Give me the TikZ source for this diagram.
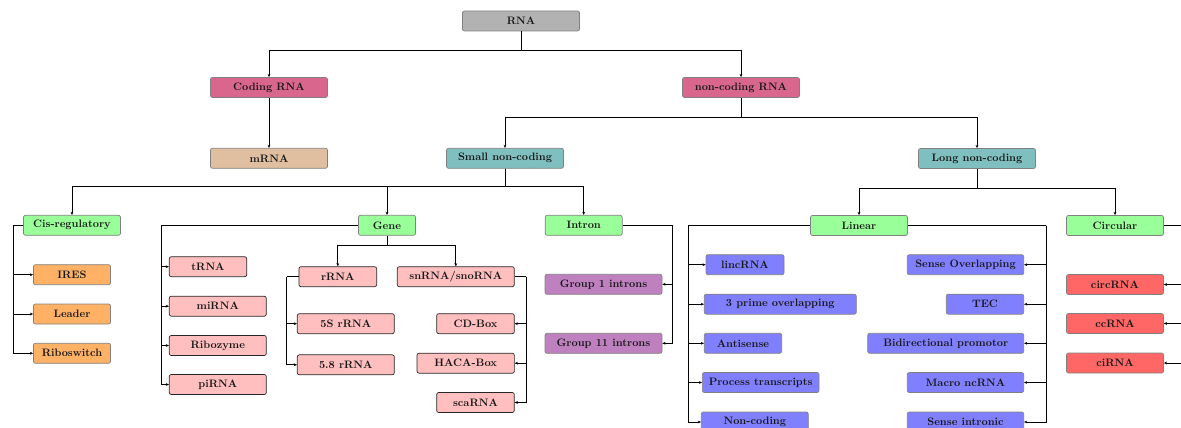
\documentclass[tikz,border=0pt]{standalone}
\usetikzlibrary{arrows.meta}
\begin{document}
\begin{tikzpicture}[x=1pt,y=-1pt,
  box/.style={draw=black!50, line width=0.7pt, rounded corners=2pt,
    minimum height=20pt, inner sep=2pt, text=black!90,
    font=\fontsize{10.8}{13}\selectfont\bfseries},
  darkbox/.style={box, draw=black!85},
  link/.style={line width=0.7pt, -{Stealth[length=3.2pt,width=2.8pt]}},
  bus/.style={line width=0.7pt}]
\useasboundingbox (0,0) rectangle (1181,428);
\clip (0,0) rectangle (1181,428);

% top levels
\node[box, fill=gray!60, minimum width=117pt] (rna) at (521,21) {RNA};
\node[box, fill=purple!60, minimum width=117pt] (coding) at (269,87.5) {Coding RNA};
\node[box, fill=purple!60, minimum width=117pt] (noncoding) at (741,87.5) {non-coding RNA};
\node[box, fill=brown!50, minimum width=117pt] (mrna) at (269,158.3) {mRNA};
\node[box, fill=teal!50, minimum width=117pt] (small) at (505,158.3) {Small non-coding};
\node[box, fill=teal!50, minimum width=117pt] (long) at (977,158.5) {Long non-coding};

% categories
\node[box, fill=green!40, minimum width=97pt] (cis) at (72,225.3) {Cis-regulatory};
\node[box, fill=green!40, minimum width=57pt] (gene) at (387,225.3) {Gene};
\node[box, fill=green!40, minimum width=77pt] (intron) at (583.7,225.3) {Intron};
\node[box, fill=green!40, minimum width=97pt] (linear) at (859,225.5) {Linear};
\node[box, fill=green!40, minimum width=97pt] (circular) at (1115,225.5) {Circular};

% cis-regulatory
\node[box, fill=orange!60, minimum width=77pt] (ires) at (72,274.7) {IRES};
\node[box, fill=orange!60, minimum width=77pt] (leader) at (72,314) {Leader};
\node[box, fill=orange!60, minimum width=77pt] (ribo) at (72,353.3) {Riboswitch};

% gene
\node[darkbox, fill=red!25, minimum width=77.4pt] (trna) at (208,266.7) {tRNA};
\node[darkbox, fill=red!25, minimum width=97pt] (mirna) at (217.8,306.2) {miRNA};
\node[darkbox, fill=red!25, minimum width=97pt] (ribozyme) at (217.8,345.5) {Ribozyme};
\node[darkbox, fill=red!25, minimum width=97pt] (pirna) at (217.8,384.5) {piRNA};
\node[darkbox, fill=red!25, minimum width=77.7pt] (rrna) at (337.8,276.7) {rRNA};
\node[darkbox, fill=red!25, minimum width=117pt] (snrna) at (455.8,276.7) {snRNA/snoRNA};
\node[darkbox, fill=red!25, minimum width=97pt] (fives) at (345.8,323.7) {5S rRNA};
\node[darkbox, fill=red!25, minimum width=97pt] (fiveeight) at (345.8,364.8) {5.8 rRNA};
\node[darkbox, fill=red!25, minimum width=77.6pt] (cdbox) at (475.5,323.7) {CD-Box};
\node[darkbox, fill=red!25, minimum width=97.3pt] (haca) at (465.7,363.2) {HACA-Box};
\node[darkbox, fill=red!25, minimum width=77.6pt] (scarna) at (475.5,402.5) {scaRNA};

% intron
\node[box, fill=violet!50, minimum width=117pt] (gone) at (603.5,284.3) {Group 1 introns};
\node[box, fill=violet!50, minimum width=117pt] (geleven) at (603.5,343.3) {Group 11 introns};

% linear
\node[box, fill=blue!50, minimum width=78pt] (linc) at (745,264.7) {lincRNA};
\node[box, fill=blue!50, minimum width=152pt] (threeprime) at (780.3,304.2) {3 prime overlapping};
\node[box, fill=blue!50, minimum width=77.4pt] (antisense) at (743,343.3) {Antisense};
\node[box, fill=blue!50, minimum width=116.7pt] (process) at (760.7,382.5) {Process transcripts};
\node[box, fill=blue!50, minimum width=107pt] (noncod) at (754.8,422) {Non-coding};
\node[box, fill=blue!50, minimum width=116.4pt] (senseov) at (965.5,264.7) {Sense Overlapping};
\node[box, fill=blue!50, minimum width=77.4pt] (tec) at (985,304.2) {TEC};
\node[box, fill=blue!50, minimum width=156pt] (bidir) at (945.7,343.3) {Bidirectional promotor};
\node[box, fill=blue!50, minimum width=116.4pt] (macro) at (965.5,382.5) {Macro ncRNA};
\node[box, fill=blue!50, minimum width=116.4pt] (senseint) at (965.5,422) {Sense intronic};

% circular
\node[box, fill=red!60, minimum width=97pt] (circ) at (1115,284.5) {circRNA};
\node[box, fill=red!60, minimum width=97pt] (ccrna) at (1115,323.5) {ccRNA};
\node[box, fill=red!60, minimum width=97pt] (cirna) at (1115,363) {ciRNA};

% tree connectors
\draw[link] (rna.south) -- ++(0,19) -| (coding.north);
\draw[link] (rna.south) -- ++(0,19) -| (noncoding.north);
\draw[link] (coding.south) -- (mrna.north);
\draw[link] (noncoding.south) -- ++(0,19.8) -| (small.north);
\draw[link] (noncoding.south) -- ++(0,19.8) -| (long.north);
\draw[link] (small.south) -- ++(0,17.7) -| (cis.north);
\draw[link] (small.south) -- ++(0,17.7) -| (gene.north);
\draw[link] (small.south) -- ++(0,17.7) -| (intron.north);
\draw[link] (long.south) -- ++(0,19.5) -| (linear.north);
\draw[link] (long.south) -- ++(0,19.5) -| (circular.north);
\draw[link] (gene.south) -- ++(0,10) -| (rrna.north);
\draw[link] (gene.south) -- ++(0,10) -| (snrna.north);

% side buses
\coordinate (cisbus) at (13.3,225.3);
\draw[bus] (cis.west) -- (cisbus);
\foreach \n in {ires,leader,ribo} \draw[link] (cisbus) |- (\n.west);

\coordinate (genebus) at (161,225.3);
\draw[bus] (gene.west) -- (genebus);
\foreach \n in {trna,mirna,ribozyme,pirna} \draw[link] (genebus) |- (\n.west);

\coordinate (rrnabus) at (286.7,276.7);
\draw[bus] (rrna.west) -- (rrnabus);
\foreach \n in {fives,fiveeight} \draw[link] (rrnabus) |- (\n.west);

\coordinate (snbus) at (526,276.7);
\draw[bus] (snrna.east) -- (snbus);
\foreach \n in {cdbox,haca,scarna} \draw[link] (snbus) |- (\n.east);

\coordinate (intbus) at (672,225.3);
\draw[bus] (intron.east) -- (intbus);
\foreach \n in {gone,geleven} \draw[link] (intbus) |- (\n.east);

\coordinate (linleft) at (688.3,225.5);
\draw[bus] (linear.west) -- (linleft);
\foreach \n in {linc,threeprime,antisense,process,noncod} \draw[link] (linleft) |- (\n.west);

\coordinate (linright) at (1046,225.5);
\draw[bus] (linear.east) -- (linright);
\foreach \n in {senseov,tec,bidir,macro,senseint} \draw[link] (linright) |- (\n.east);

\coordinate (circbus) at (1196,225.5);
\draw[bus] (circular.east) -- (circbus);
\foreach \n in {circ,ccrna,cirna} \draw[link] (circbus) |- (\n.east);
\end{tikzpicture}
\end{document}
